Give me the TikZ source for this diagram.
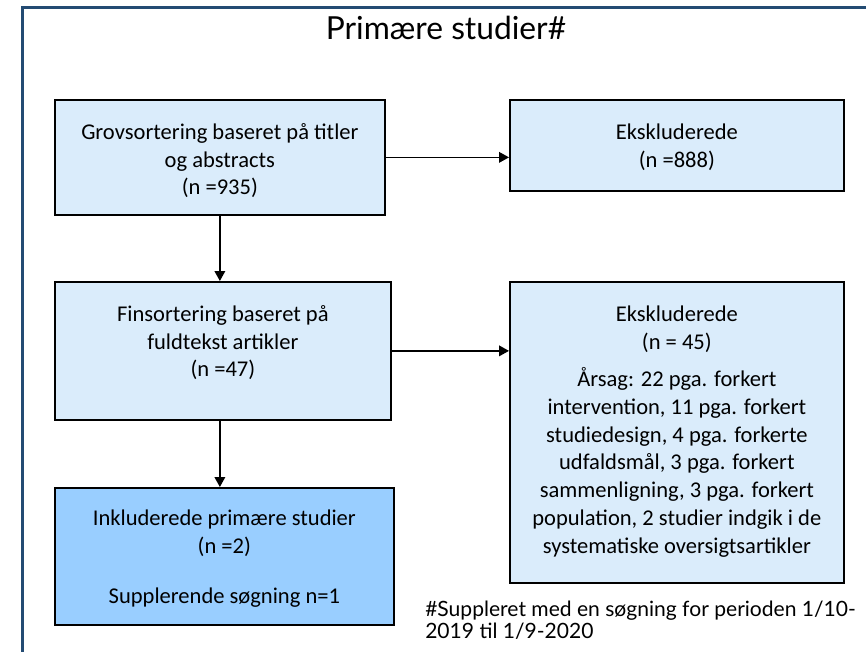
\documentclass[tikz,border=0pt]{standalone}
\usepackage{fontspec}
\setmainfont{Carlito}
\newfontfamily\ralefont{Lato}
\usetikzlibrary{arrows.meta}
\newlength\pxu
\setlength\pxu{0.75pt}
\definecolor{lightbox}{RGB}{218,236,251}
\definecolor{darkbox}{RGB}{153,206,255}
\definecolor{framecol}{RGB}{35,75,115}
\newcommand\boxtext[4]{\begin{minipage}[t][#2\pxu][t]{#1\pxu}\centering\fontsize{16.9pt}{20.8pt}\selectfont\vspace*{#3\pxu}#4\end{minipage}}
\tikzset{
  flowbox/.style={draw=black, line width=1.3pt, inner sep=0pt, anchor=north west},
  arr/.style={line width=1.1pt, -{Triangle[length=7.5pt,width=8pt]}},
}
\begin{document}
\begin{tikzpicture}[x=0.75pt,y=-0.75pt]
\useasboundingbox[fill=white] (0,0) rectangle (866,652);
\draw[framecol, line width=2pt] (22.5,652) -- (22.5,7.5) -- (866,7.5);
\node[font=\ralefont\fontsize{23.8pt}{28pt}\selectfont] (title) at (446,28) {Primære studier\#};
\node[flowbox, fill=lightbox] (b1) at (54,99) {\boxtext{330}{115}{20}{\strut Grovsortering baseret på titler\\ og abstracts\\ (n =935)}};
\node[flowbox, fill=lightbox] (b2) at (509,99) {\boxtext{334}{91}{20}{\strut Ekskluderede\\ (n =888)}};
\node[flowbox, fill=lightbox] (b3) at (54,281) {\boxtext{336}{138}{20}{\strut Finsortering baseret på\\ fuldtekst artikler\\ (n =47)}};
\node[flowbox, fill=lightbox] (b4) at (509,281) {\boxtext{334}{301}{20}{\strut Ekskluderede\\ (n = 45)\\[10\pxu] Årsag: 22 pga. forkert\\ intervention, 11 pga. forkert\\ studiedesign, 4 pga. forkerte\\ udfaldsmål, 3 pga. forkert\\ sammenligning, 3 pga. forkert\\ population, 2 studier indgik i de\\ systematiske oversigtsartikler}};
\node[flowbox, fill=darkbox] (b5) at (54,487) {\boxtext{339}{137}{18}{\strut Inkluderede primære studier\\ (n =2)\\[23\pxu] Supplerende søgning n=1}};
\node[anchor=north west, align=left, inner sep=0pt, font=\ralefont\fontsize{15.8pt}{16.5pt}\selectfont] (fn) at (425,601) {\#Suppleret med en søgning for perioden 1/10-\\2019 til 1/9-2020};
\draw[arr] (b1.east) -- (b1.east -| b2.west);
\draw[arr] (b1.south) -- (b1.south |- b3.north);
\draw[arr] (b3.east) -- (b3.east -| b4.west);
\draw[arr] (b3.south -| b1.south) -- (b5.north -| b1.south);
\end{tikzpicture}
\end{document}
